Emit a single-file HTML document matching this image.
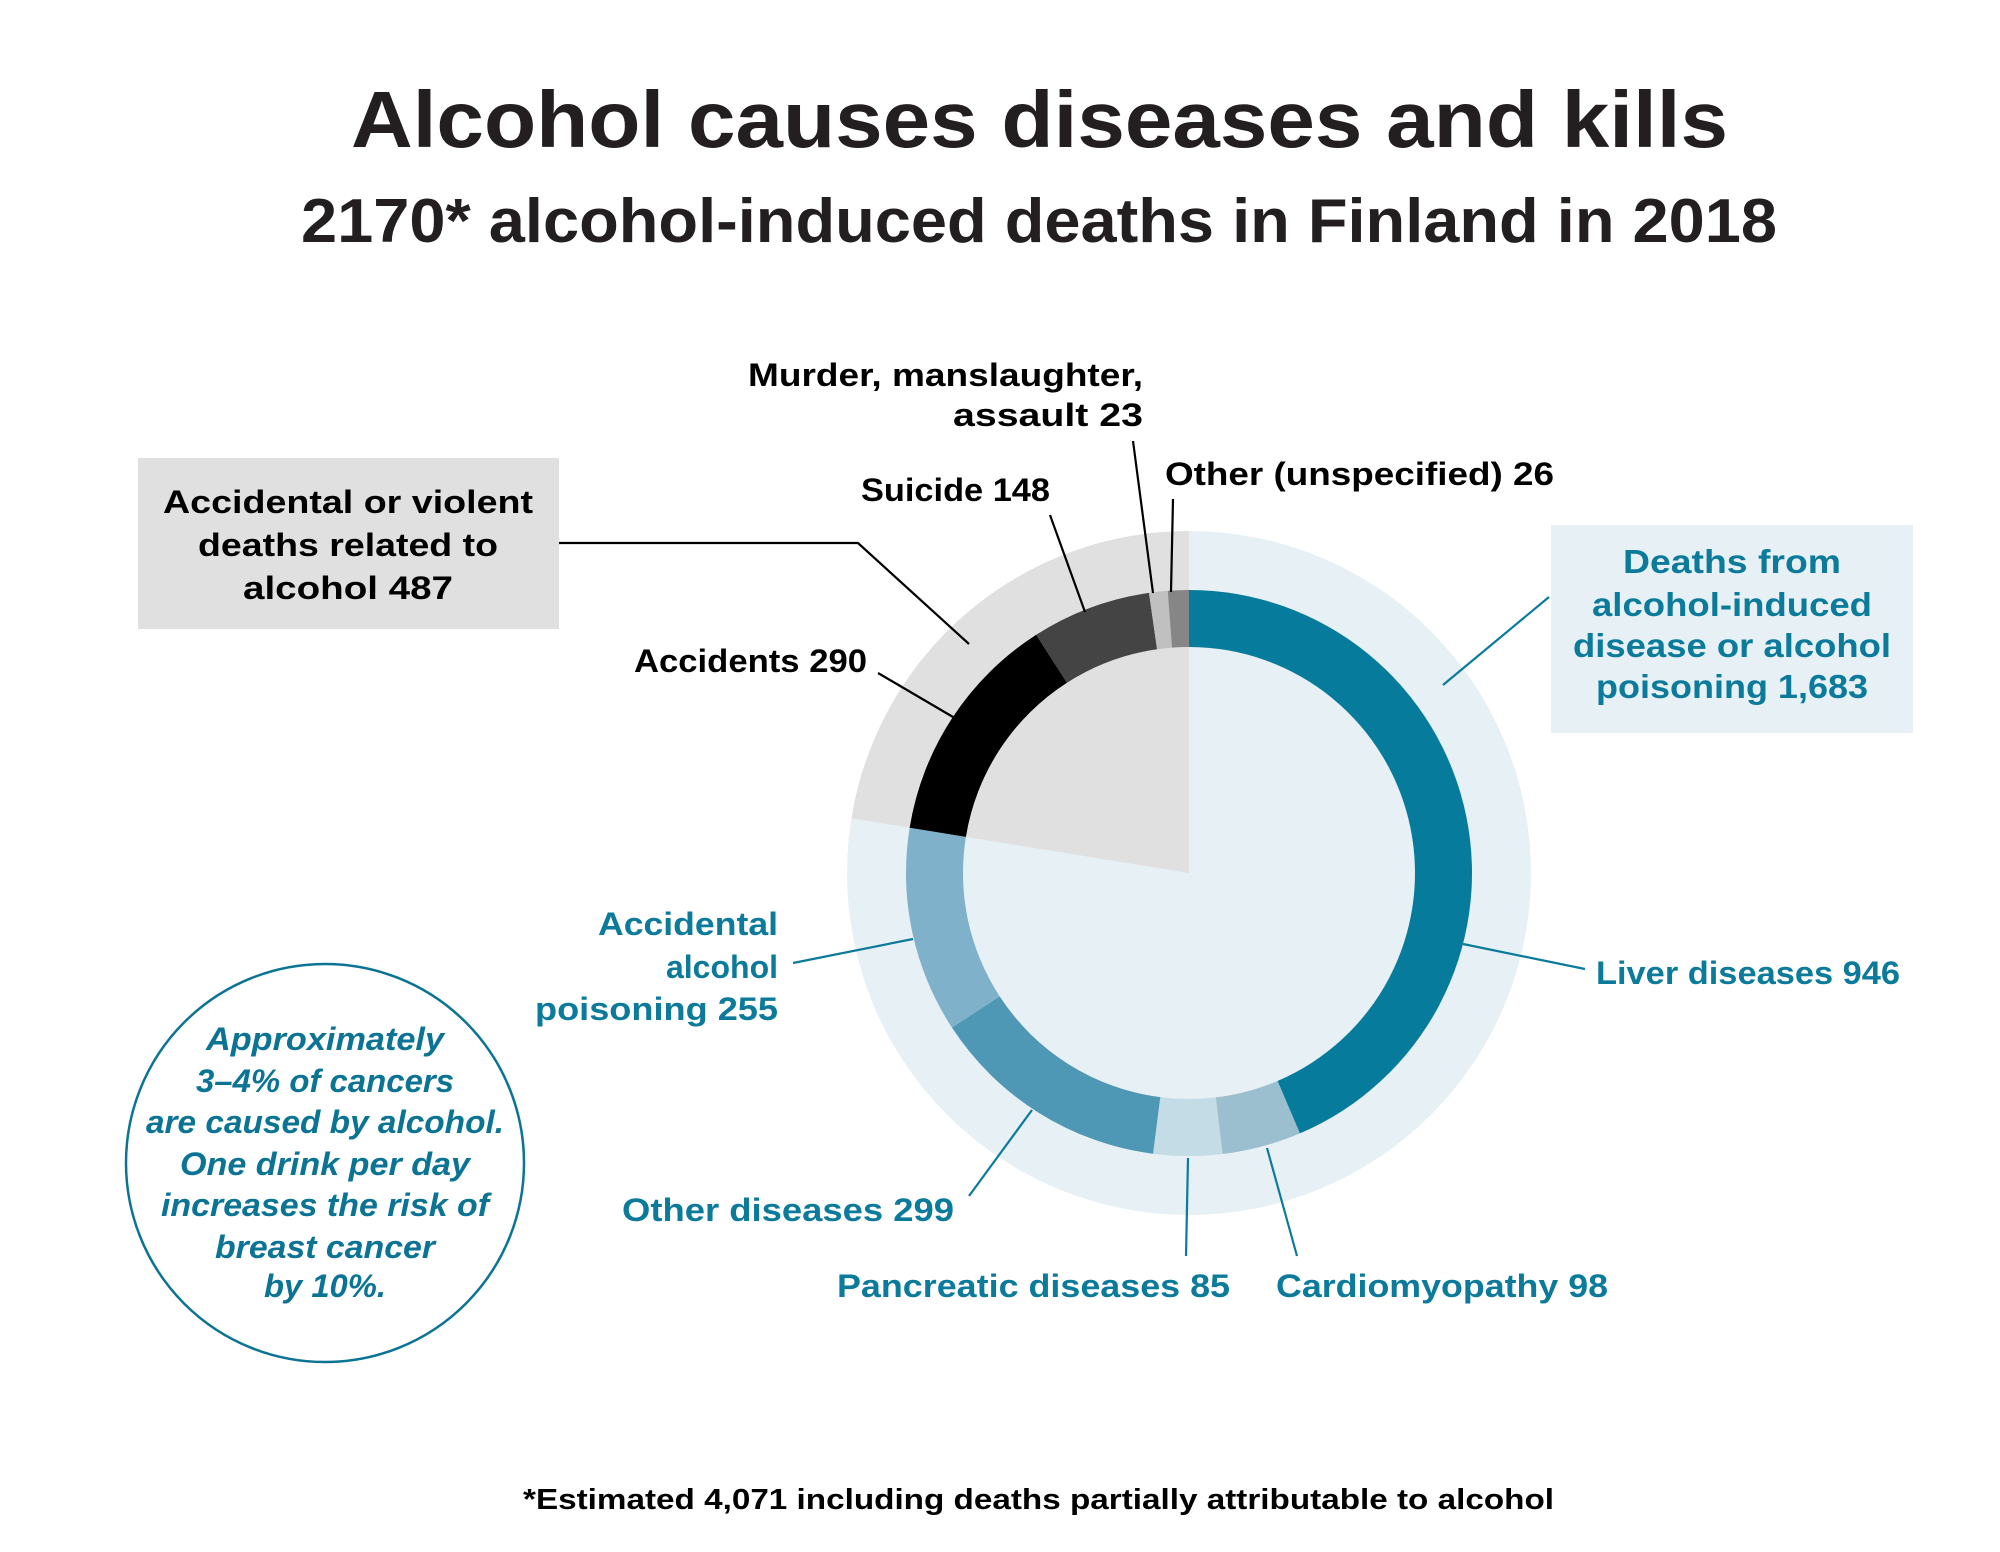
<!DOCTYPE html>
<html><head><meta charset="utf-8"><style>
html,body{margin:0;padding:0;background:#fff}
svg{display:block}
text{font-family:"Liberation Sans",sans-serif;font-weight:bold}
</style></head><body>
<svg id="s" width="2000" height="1552" viewBox="0 0 2000 1552" xmlns="http://www.w3.org/2000/svg">
<rect width="2000" height="1552" fill="#fff"/>
<text x="351" y="147" font-size="80" fill="#231f20" textLength="1377" lengthAdjust="spacingAndGlyphs">Alcohol causes diseases and kills</text>
<text x="301" y="242" font-size="62" fill="#231f20" textLength="1476" lengthAdjust="spacingAndGlyphs">2170* alcohol-induced deaths in Finland in 2018</text>

<circle cx="1189" cy="873" r="342" fill="#e6f0f5"/>
<g id="pie"></g>

<g font-size="32" fill="#000">
<text x="1143" y="386" text-anchor="end" textLength="395" lengthAdjust="spacingAndGlyphs">Murder, manslaughter,</text>
<text x="1143" y="426" text-anchor="end" textLength="190" lengthAdjust="spacingAndGlyphs">assault  23</text>
<text x="1165" y="485" textLength="389" lengthAdjust="spacingAndGlyphs">Other (unspecified)  26</text>
<text x="861" y="501" textLength="189" lengthAdjust="spacingAndGlyphs">Suicide 148</text>
<text x="634" y="672" textLength="233" lengthAdjust="spacingAndGlyphs">Accidents 290</text>
</g>
<rect x="138" y="458" width="421" height="171" fill="#e0e0e0"/>
<g font-size="32" fill="#000" text-anchor="middle">
<text x="348" y="513" textLength="370" lengthAdjust="spacingAndGlyphs">Accidental or violent</text>
<text x="348" y="556" textLength="300" lengthAdjust="spacingAndGlyphs">deaths related to</text>
<text x="348" y="599" textLength="210" lengthAdjust="spacingAndGlyphs">alcohol  487</text>
</g>
<g stroke="#000" stroke-width="2.2" fill="none">
<polyline points="559,543 858,543 969,644"/>
<line x1="878" y1="673" x2="953" y2="717"/>
<line x1="1050" y1="515" x2="1085" y2="612"/>
<line x1="1133" y1="441" x2="1153" y2="593"/>
<line x1="1173" y1="499" x2="1171" y2="592"/>
</g>

<rect x="1551" y="525" width="362" height="208" fill="#e6f0f5"/>
<g font-size="33" fill="#0b7a9b" text-anchor="middle">
<text x="1732" y="573" textLength="218" lengthAdjust="spacingAndGlyphs">Deaths from</text>
<text x="1732" y="616" textLength="280" lengthAdjust="spacingAndGlyphs">alcohol-induced</text>
<text x="1732" y="657" textLength="318" lengthAdjust="spacingAndGlyphs">disease or alcohol</text>
<text x="1732" y="698" textLength="272" lengthAdjust="spacingAndGlyphs">poisoning 1,683</text>
</g>
<g font-size="32" fill="#0b7a9b">
<text x="1596" y="984" textLength="304" lengthAdjust="spacingAndGlyphs">Liver diseases 946</text>
<text x="778" y="935" text-anchor="end" textLength="180" lengthAdjust="spacingAndGlyphs">Accidental</text>
<text x="778" y="978" text-anchor="end" textLength="112" lengthAdjust="spacingAndGlyphs">alcohol</text>
<text x="778" y="1020" text-anchor="end" textLength="243" lengthAdjust="spacingAndGlyphs">poisoning  255</text>
<text x="622" y="1221" textLength="332" lengthAdjust="spacingAndGlyphs">Other diseases  299</text>
<text x="837" y="1297" textLength="393" lengthAdjust="spacingAndGlyphs">Pancreatic diseases  85</text>
<text x="1276" y="1297" textLength="332" lengthAdjust="spacingAndGlyphs">Cardiomyopathy 98</text>
</g>
<g stroke="#0b7a9b" stroke-width="2.2" fill="none">
<line x1="1549" y1="597" x2="1443" y2="685"/>
<line x1="1463" y1="944" x2="1585" y2="969"/>
<line x1="793" y1="963" x2="913" y2="939"/>
<line x1="969" y1="1196" x2="1032" y2="1110"/>
<line x1="1186" y1="1256" x2="1188" y2="1158"/>
<line x1="1297" y1="1256" x2="1267" y2="1148"/>
</g>

<circle cx="325" cy="1163" r="199" fill="none" stroke="#0b7393" stroke-width="2.5"/>
<g font-size="32" fill="#0b7393" text-anchor="middle" font-style="italic">
<text x="325" y="1050" textLength="238" lengthAdjust="spacingAndGlyphs">Approximately</text>
<text x="325" y="1092" textLength="258" lengthAdjust="spacingAndGlyphs">3–4% of cancers</text>
<text x="325" y="1133" textLength="358" lengthAdjust="spacingAndGlyphs">are caused by alcohol.</text>
<text x="325" y="1175" textLength="290" lengthAdjust="spacingAndGlyphs">One drink per day</text>
<text x="325" y="1216" textLength="328" lengthAdjust="spacingAndGlyphs">increases the risk of</text>
<text x="325" y="1258" textLength="220" lengthAdjust="spacingAndGlyphs">breast cancer</text>
<text x="325" y="1297" textLength="122" lengthAdjust="spacingAndGlyphs">by 10%.</text>
</g>

<text x="523" y="1509" font-size="29" fill="#000" textLength="1031" lengthAdjust="spacingAndGlyphs">*Estimated 4,071 including deaths partially attributable to alcohol</text>
</svg>
<script>
(function(){
var cx=1189,cy=873,NS="http://www.w3.org/2000/svg",g=document.getElementById("pie");
function pt(r,a){var t=a*Math.PI/180;return [cx+r*Math.sin(t),cy-r*Math.cos(t)];}
function wedge(a0,a1,r,fill){var p0=pt(r,a0),p1=pt(r,a1),l=(a1-a0)>180?1:0;
var p=document.createElementNS(NS,"path");
p.setAttribute("d","M"+cx+","+cy+"L"+p0+"A"+r+","+r+" 0 "+l+" 1 "+p1+"Z");p.setAttribute("fill",fill);g.appendChild(p);}
function arc(a0,a1,ro,ri,fill){var a=pt(ro,a0),b=pt(ro,a1),c=pt(ri,a1),d=pt(ri,a0),l=(a1-a0)>180?1:0;
var p=document.createElementNS(NS,"path");
p.setAttribute("d","M"+a+"A"+ro+","+ro+" 0 "+l+" 1 "+b+"L"+c+"A"+ri+","+ri+" 0 "+l+" 0 "+d+"Z");p.setAttribute("fill",fill);g.appendChild(p);}
var T=2170;
wedge(1683/T*360,360,342,"#e0e0e0");
var segs=[[946,"#077b9b"],[98,"#9bbfcf"],[85,"#c3dce6"],[299,"#4e97b5"],[255,"#80b1cb"],[290,"#000000"],[148,"#444444"],[23,"#c0c0c0"],[26,"#868686"]];
var c=0;segs.forEach(function(s){var a0=c/T*360;c+=s[0];var a1=c/T*360;arc(a0,a1,283,226,s[1]);});
})();
</script>
</body></html>
